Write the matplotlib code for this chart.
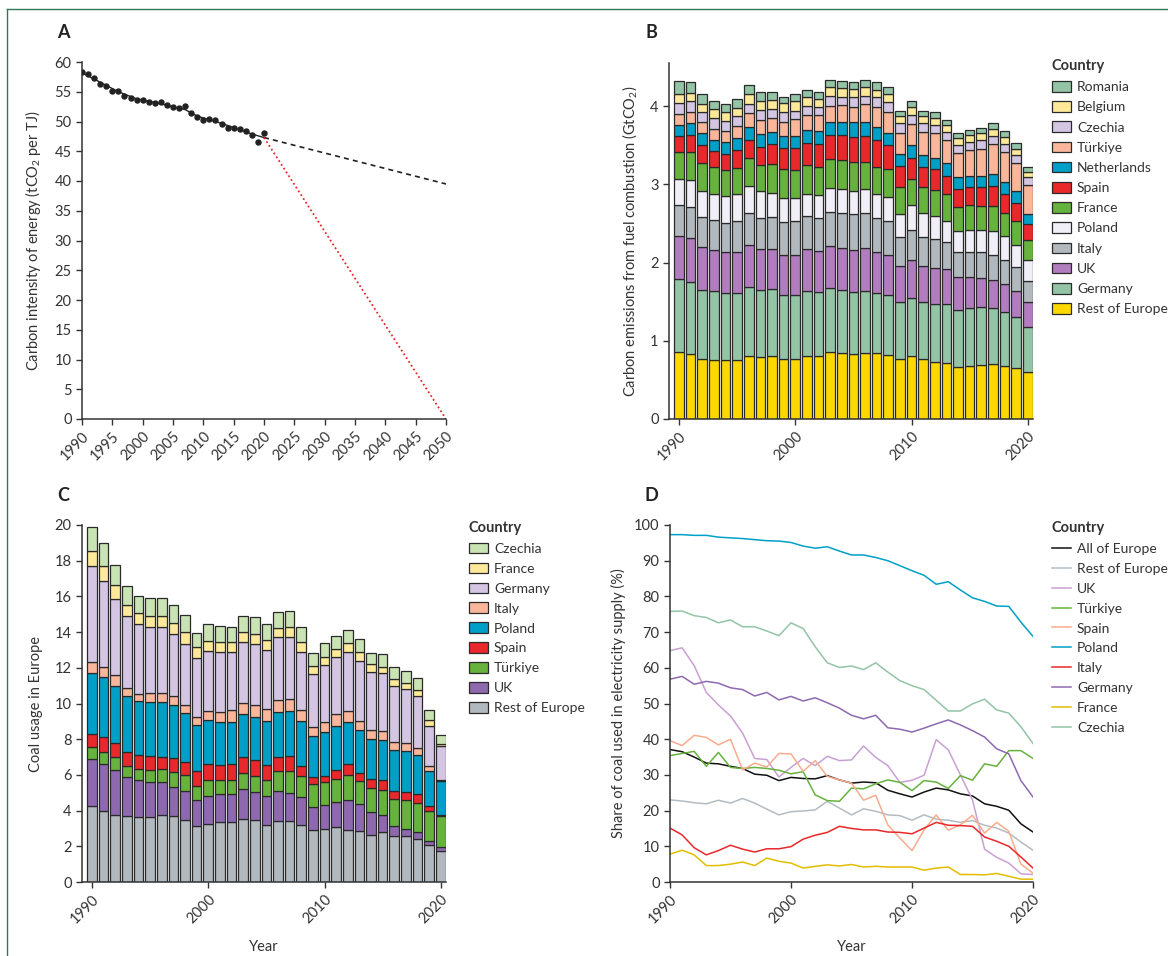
import matplotlib
matplotlib.use("Agg")
import matplotlib.pyplot as plt
from matplotlib.patches import Patch
from matplotlib.lines import Line2D

plt.rcParams['font.family'] = ['Lato', 'DejaVu Sans']
plt.rcParams['mathtext.fontset'] = 'custom'
plt.rcParams['mathtext.rm'] = 'Lato'
plt.rcParams['mathtext.default'] = 'regular'
plt.rcParams['font.size'] = 10
plt.rcParams['text.color'] = '#333333'
plt.rcParams['axes.labelcolor'] = '#333333'
plt.rcParams['xtick.color'] = '#333333'
plt.rcParams['ytick.color'] = '#333333'

years = list(range(1990, 2021))

# ---- panel A: carbon intensity
a_years = years
a_intensity = [58.3, 57.9, 57.3, 56.3, 56.0, 55.2, 55.1, 54.3, 54.0, 53.6, 53.6, 53.3, 53.1, 53.3,
               52.8, 52.4, 52.2, 52.6, 51.5, 50.8, 50.2, 50.5, 50.3, 49.5, 48.9, 48.9, 48.7, 48.4,
               47.8, 46.5, 48.1]
a_trend_years = [1990, 1993, 1996, 1999, 2002, 2005, 2007, 2009, 2012, 2015, 2018, 2020]
a_trend = [58.2, 56.6, 55.0, 53.8, 53.2, 52.5, 52.0, 50.9, 50.0, 49.0, 47.9, 47.3]
proj_years = [2020, 2050]
proj_current = [47.3, 39.5]
proj_netzero = [47.3, 0.0]

# ---- panel B: emissions from fuel combustion (GtCO2), bottom to top
b_countries = ["Rest of Europe", "Germany", "UK", "Italy", "Poland", "France", "Spain",
               "Netherlands", "Türkiye", "Czechia", "Belgium", "Romania"]
b_rest = [0.85, 0.83, 0.77, 0.76, 0.75, 0.76, 0.80, 0.79, 0.80, 0.77, 0.77, 0.80, 0.81, 0.85, 0.84, 0.83,
          0.84, 0.84, 0.82, 0.77, 0.80, 0.77, 0.73, 0.71, 0.67, 0.68, 0.69, 0.70, 0.68, 0.65, 0.60]
b_germany = [0.94, 0.92, 0.88, 0.87, 0.86, 0.85, 0.89, 0.86, 0.86, 0.82, 0.82, 0.83, 0.81, 0.83, 0.81, 0.79,
             0.80, 0.77, 0.77, 0.72, 0.75, 0.73, 0.74, 0.76, 0.72, 0.74, 0.74, 0.72, 0.69, 0.65, 0.58]
b_uk = [0.55, 0.56, 0.55, 0.53, 0.53, 0.52, 0.54, 0.52, 0.51, 0.51, 0.51, 0.54, 0.53, 0.53, 0.53, 0.54,
        0.54, 0.52, 0.51, 0.46, 0.48, 0.45, 0.46, 0.45, 0.42, 0.39, 0.37, 0.36, 0.35, 0.34, 0.31]
b_italy = [0.39, 0.40, 0.38, 0.38, 0.37, 0.40, 0.40, 0.40, 0.41, 0.42, 0.43, 0.42, 0.42, 0.44, 0.45, 0.46,
           0.45, 0.44, 0.43, 0.38, 0.39, 0.37, 0.37, 0.34, 0.33, 0.33, 0.33, 0.32, 0.31, 0.30, 0.28]
b_poland = [0.34, 0.34, 0.34, 0.34, 0.34, 0.34, 0.35, 0.34, 0.31, 0.31, 0.30, 0.29, 0.29, 0.30, 0.31, 0.29,
            0.31, 0.30, 0.31, 0.29, 0.31, 0.31, 0.30, 0.27, 0.26, 0.28, 0.28, 0.30, 0.31, 0.29, 0.26]
b_france = [0.34, 0.36, 0.35, 0.34, 0.33, 0.34, 0.36, 0.34, 0.37, 0.36, 0.35, 0.37, 0.36, 0.37, 0.37, 0.37,
            0.35, 0.35, 0.35, 0.34, 0.34, 0.33, 0.33, 0.34, 0.31, 0.31, 0.31, 0.32, 0.29, 0.30, 0.26]
b_spain = [0.21, 0.22, 0.23, 0.21, 0.21, 0.23, 0.22, 0.23, 0.25, 0.28, 0.29, 0.28, 0.29, 0.31, 0.32, 0.33,
           0.33, 0.35, 0.31, 0.27, 0.26, 0.26, 0.26, 0.24, 0.23, 0.24, 0.24, 0.26, 0.25, 0.23, 0.20]
b_netherlands = [0.14, 0.15, 0.15, 0.14, 0.15, 0.15, 0.17, 0.16, 0.16, 0.15, 0.15, 0.16, 0.17, 0.17, 0.17, 0.18,
                 0.17, 0.16, 0.16, 0.16, 0.17, 0.16, 0.15, 0.16, 0.15, 0.14, 0.15, 0.15, 0.15, 0.15, 0.13]
b_turkiye = [0.14, 0.14, 0.14, 0.14, 0.14, 0.16, 0.18, 0.18, 0.18, 0.17, 0.21, 0.19, 0.20, 0.20, 0.21, 0.20,
             0.23, 0.26, 0.27, 0.27, 0.27, 0.29, 0.31, 0.29, 0.31, 0.33, 0.34, 0.38, 0.38, 0.36, 0.37]
b_czechia = [0.14, 0.14, 0.13, 0.14, 0.13, 0.12, 0.12, 0.13, 0.11, 0.14, 0.11, 0.12, 0.11, 0.13, 0.11, 0.12,
             0.11, 0.12, 0.12, 0.12, 0.12, 0.11, 0.11, 0.11, 0.10, 0.10, 0.11, 0.11, 0.10, 0.10, 0.10]
b_belgium = [0.11, 0.11, 0.11, 0.11, 0.11, 0.11, 0.12, 0.12, 0.12, 0.11, 0.12, 0.11, 0.10, 0.11, 0.11, 0.11,
             0.11, 0.10, 0.10, 0.09, 0.10, 0.09, 0.09, 0.09, 0.09, 0.09, 0.09, 0.09, 0.09, 0.08, 0.07]
b_romania = [0.17, 0.14, 0.13, 0.11, 0.11, 0.11, 0.12, 0.11, 0.10, 0.07, 0.09, 0.09, 0.09, 0.09, 0.09, 0.09,
             0.09, 0.10, 0.09, 0.07, 0.07, 0.07, 0.07, 0.06, 0.07, 0.07, 0.07, 0.07, 0.08, 0.08, 0.06]
b_values = [b_rest, b_germany, b_uk, b_italy, b_poland, b_france, b_spain,
            b_netherlands, b_turkiye, b_czechia, b_belgium, b_romania]
b_colors = ["#fdd800", "#93c4a6", "#b27dbf", "#b1b9bf", "#f0eef6", "#66b23c", "#e8282a",
            "#009fc7", "#f9b69b", "#d4c5e3", "#fde999", "#93c4a6"]

# ---- panel C: coal usage, bottom to top
c_countries = ["Rest of Europe", "UK", "Türkiye", "Spain", "Poland", "Italy", "Germany",
               "France", "Czechia"]
c_rest = [4.24, 3.96, 3.77, 3.71, 3.64, 3.64, 3.77, 3.68, 3.49, 3.12, 3.26, 3.34, 3.34, 3.54, 3.45, 3.21,
          3.40, 3.40, 3.21, 2.93, 2.97, 3.08, 2.93, 2.84, 2.65, 2.78, 2.59, 2.56, 2.43, 2.05, 1.72]
c_uk = [2.65, 2.65, 2.48, 2.16, 2.09, 1.98, 1.81, 1.62, 1.62, 1.46, 1.57, 1.60, 1.59, 1.68, 1.57, 1.59,
        1.72, 1.59, 1.53, 1.25, 1.34, 1.38, 1.64, 1.55, 1.27, 0.99, 0.52, 0.41, 0.35, 0.22, 0.22]
c_turkiye = [0.65, 0.65, 0.73, 0.65, 0.62, 0.67, 0.76, 0.88, 0.86, 0.82, 0.90, 0.78, 0.76, 0.88, 0.90, 0.90,
             1.08, 1.21, 1.18, 1.31, 1.27, 1.32, 1.44, 1.25, 1.34, 1.40, 1.53, 1.60, 1.64, 1.72, 1.74]
c_spain = [0.76, 0.86, 0.80, 0.78, 0.78, 0.75, 0.69, 0.76, 0.73, 0.80, 0.90, 0.84, 0.93, 0.88, 0.90, 0.88,
           0.80, 0.84, 0.60, 0.39, 0.34, 0.50, 0.62, 0.47, 0.50, 0.56, 0.47, 0.50, 0.52, 0.24, 0.09]
c_poland = [3.40, 3.34, 3.21, 3.12, 2.99, 3.04, 3.08, 2.99, 2.76, 2.61, 2.46, 2.43, 2.37, 2.44, 2.43, 2.43,
            2.52, 2.56, 2.48, 2.28, 2.48, 2.46, 2.33, 2.39, 2.26, 2.20, 2.26, 2.29, 2.18, 2.00, 1.87]
c_italy = [0.62, 0.58, 0.58, 0.47, 0.43, 0.50, 0.47, 0.47, 0.47, 0.43, 0.50, 0.52, 0.62, 0.60, 0.65, 0.69,
           0.69, 0.65, 0.65, 0.50, 0.56, 0.65, 0.63, 0.54, 0.50, 0.54, 0.47, 0.41, 0.41, 0.28, 0.09]
c_germany = [5.39, 4.81, 4.31, 4.01, 3.90, 3.73, 3.68, 3.51, 3.41, 3.30, 3.36, 3.40, 3.26, 3.40, 3.45, 3.32,
             3.49, 3.47, 3.23, 2.99, 3.17, 3.19, 3.28, 3.32, 3.26, 3.23, 3.15, 3.04, 2.89, 2.24, 1.87]
c_france = [0.84, 0.86, 0.78, 0.62, 0.62, 0.60, 0.62, 0.60, 0.69, 0.60, 0.56, 0.52, 0.56, 0.56, 0.56, 0.56,
            0.52, 0.56, 0.54, 0.43, 0.47, 0.45, 0.50, 0.52, 0.41, 0.37, 0.39, 0.35, 0.34, 0.34, 0.15]
c_czechia = [1.32, 1.27, 1.10, 1.08, 0.97, 1.01, 1.03, 0.99, 0.91, 0.80, 0.95, 0.91, 0.88, 0.90, 0.91, 0.86,
             0.88, 0.88, 0.86, 0.75, 0.80, 0.76, 0.75, 0.76, 0.65, 0.71, 0.69, 0.65, 0.65, 0.56, 0.50]
c_values = [c_rest, c_uk, c_turkiye, c_spain, c_poland, c_italy, c_germany, c_france, c_czechia]
c_colors = ["#b1b9bf", "#8e69b0", "#66b23c", "#e8282a", "#009fc7", "#f9b69b", "#d4c5e3",
            "#fde999", "#c9e3b4"]

# ---- panel D: share of coal used in electricity supply (%)
d_countries = ["All of Europe", "Rest of Europe", "UK", "Türkiye", "Spain", "Poland", "Italy",
               "Germany", "France", "Czechia"]
d_all = [37.1, 36.5, 35.0, 33.3, 33.1, 32.4, 31.8, 30.2, 29.9, 28.4, 29.3, 29.0, 28.9, 29.8, 28.6, 27.7,
         28.0, 27.8, 25.7, 24.7, 23.8, 25.2, 26.3, 25.8, 24.7, 24.1, 21.9, 21.2, 20.1, 16.3, 14.0]
d_rest = [23.0, 22.7, 22.2, 21.9, 22.9, 22.1, 23.4, 22.1, 20.4, 18.8, 19.7, 19.9, 20.2, 22.6, 20.7, 18.8,
          20.5, 19.8, 18.8, 18.6, 17.3, 18.8, 17.6, 17.3, 16.7, 17.2, 15.9, 15.1, 13.7, 11.2, 8.9]
d_uk = [64.8, 65.6, 60.6, 53.1, 49.6, 46.5, 41.7, 34.6, 34.3, 29.4, 32.1, 34.6, 32.6, 35.2, 34.0, 34.2,
        38.1, 34.9, 32.6, 27.9, 28.5, 29.9, 39.9, 37.0, 30.0, 23.0, 9.2, 6.9, 5.3, 2.3, 2.1]
d_turkiye = [35.4, 36.0, 36.6, 32.4, 36.3, 32.1, 31.8, 32.1, 31.8, 31.3, 30.3, 30.9, 24.4, 22.8, 22.6, 26.3,
             26.1, 27.5, 28.6, 27.9, 25.6, 28.4, 28.0, 26.2, 29.8, 28.5, 33.1, 32.4, 36.8, 36.8, 34.6]
d_spain = [39.6, 38.2, 41.1, 40.5, 38.4, 40.0, 31.4, 33.3, 32.2, 36.0, 35.9, 31.0, 34.0, 29.6, 28.6, 27.7,
           22.9, 24.3, 16.0, 12.3, 8.8, 14.6, 18.8, 14.5, 16.0, 18.7, 13.7, 16.7, 14.2, 5.0, 2.5]
d_poland = [97.3, 97.3, 97.1, 97.1, 96.6, 96.4, 96.2, 95.9, 95.6, 95.5, 95.1, 94.1, 93.5, 93.9, 92.7, 91.6,
            91.6, 90.9, 90.0, 88.6, 87.2, 85.9, 83.4, 84.1, 81.8, 79.6, 78.6, 77.3, 77.2, 72.8, 68.8]
d_italy = [15.1, 13.2, 9.6, 7.6, 8.8, 10.3, 9.2, 8.4, 9.3, 9.3, 9.9, 12.0, 13.1, 13.9, 15.6, 15.0,
           14.6, 14.6, 14.0, 13.9, 13.5, 15.1, 16.7, 15.9, 15.8, 15.6, 12.6, 11.4, 10.0, 7.0, 3.9]
d_germany = [56.8, 57.6, 55.4, 56.2, 55.7, 54.4, 53.9, 52.1, 53.1, 51.0, 52.0, 50.7, 51.6, 50.2, 48.7, 46.7,
             45.7, 46.7, 43.2, 42.8, 42.0, 43.1, 44.3, 45.4, 44.0, 42.4, 40.6, 37.3, 35.9, 28.4, 23.8]
d_france = [7.8, 8.9, 7.6, 4.6, 4.6, 5.0, 5.6, 4.6, 6.7, 5.8, 5.3, 3.9, 4.4, 4.8, 4.5, 4.9,
            4.2, 4.4, 4.2, 4.2, 4.2, 3.3, 3.9, 4.2, 2.1, 2.1, 2.0, 2.4, 1.6, 0.8, 0.8]
d_czechia = [75.8, 75.9, 74.6, 74.1, 72.6, 73.4, 71.5, 71.5, 70.3, 69.0, 72.6, 71.0, 65.9, 61.4, 60.1, 60.5,
             59.5, 61.4, 58.8, 56.4, 55.0, 53.9, 50.9, 47.9, 47.9, 49.9, 51.2, 48.2, 47.3, 43.5, 38.8]
d_values = [d_all, d_rest, d_uk, d_turkiye, d_spain, d_poland, d_italy, d_germany, d_france, d_czechia]
d_colors = ["#111111", "#b4bcc2", "#c9a0d3", "#66b23c", "#f9ac8e", "#00a0c8", "#e8282a",
            "#8e69b0", "#e2bd00", "#93c4a6"]

W, H = 1168, 956
fig = plt.figure(figsize=(W / 100, H / 100), dpi=100)


def px_axes(left, top, right, bottom):
    return fig.add_axes([left / W, 1 - bottom / H, (right - left) / W, (bottom - top) / H])


def style(ax):
    for s in ["top", "right"]:
        ax.spines[s].set_visible(False)
    for s in ["left", "bottom"]:
        ax.spines[s].set_color("#333333")
        ax.spines[s].set_linewidth(1.1)
    ax.tick_params(direction="out", length=4, width=1.0, labelsize=10.5, colors="#333333")
    for lab in ax.get_xticklabels():
        lab.set_rotation(45)
        lab.set_ha("right")
        lab.set_va("top")
        lab.set_rotation_mode("anchor")


def add_legend(ax, handles, x, y, spacing):
    ax.legend(handles=handles, loc="upper left", bbox_to_anchor=(x / W, 1 - y / H),
              bbox_transform=fig.transFigure, frameon=False, title="Country", alignment="left",
              title_fontproperties={"weight": "bold", "size": 10.5}, fontsize=10,
              handlelength=1.35, handleheight=0.8, handletextpad=0.45, labelspacing=spacing,
              borderpad=0)


# panel A
axA = px_axes(82, 62, 446, 419)
axA.plot(a_years, a_intensity, "o", color="#222222", markersize=3.6, zorder=3)
axA.plot(a_trend_years, a_trend, "-", color="#222222", lw=1.0)
axA.plot(proj_years, proj_current, color="#222222", lw=1.2, dashes=(3, 2.5))
axA.plot(proj_years, proj_netzero, color="#e8282a", lw=1.3, dashes=(1, 1.5))
axA.set_xlim(1990, 2050)
axA.set_ylim(0, 60)
axA.set_xticks(range(1990, 2051, 5))
axA.set_yticks(range(0, 61, 5))
axA.set_ylabel("Carbon intensity of energy (tCO$_2$ per TJ)", fontsize=10.5, labelpad=8)
style(axA)

# panel B
axB = px_axes(669, 63, 1033, 419)
bottom = [0.0] * len(years)
b_handles = []
for vals, col, name in zip(b_values, b_colors, b_countries):
    axB.bar(years, vals, bottom=bottom, width=0.82, color=col, edgecolor="#2a2a2a", linewidth=0.9)
    bottom = [b + v for b, v in zip(bottom, vals)]
    b_handles.append(Patch(facecolor=col, edgecolor="#2a2a2a", linewidth=0.9, label=name))
axB.set_xlim(1989.14, 2020.45)
axB.set_ylim(0, 4.55)
axB.set_xticks([1990, 2000, 2010, 2020])
axB.set_yticks([0, 1, 2, 3, 4])
axB.set_ylabel("Carbon emissions from fuel combustion (GtCO$_2$)", fontsize=10.5, labelpad=8)
style(axB)
add_legend(axB, b_handles[::-1], 1045, 52, 0.58)

# panel C
axC = px_axes(82, 525, 446, 882)
bottom = [0.0] * len(years)
c_handles = []
for vals, col, name in zip(c_values, c_colors, c_countries):
    axC.bar(years, vals, bottom=bottom, width=0.82, color=col, edgecolor="#2a2a2a", linewidth=0.9)
    bottom = [b + v for b, v in zip(bottom, vals)]
    c_handles.append(Patch(facecolor=col, edgecolor="#2a2a2a", linewidth=0.9, label=name))
axC.set_xlim(1989.14, 2020.45)
axC.set_ylim(0, 20)
axC.set_xticks([1990, 2000, 2010, 2020])
axC.set_yticks(range(0, 21, 2))
axC.set_ylabel("Coal usage in Europe", fontsize=10.5, labelpad=8)
axC.set_xlabel("Year", fontsize=10.5, labelpad=10)
style(axC)
add_legend(axC, c_handles[::-1], 462, 514, 0.56)

# panel D
axD = px_axes(670, 525, 1033, 882)
d_handles = []
for vals, col, name in zip(d_values, d_colors, d_countries):
    axD.plot(years, vals, color=col, lw=1.1)
    d_handles.append(Line2D([0], [0], color=col, lw=1.1, label=name))
axD.set_xlim(1990, 2020)
axD.set_ylim(0, 100)
axD.set_xticks([1990, 2000, 2010, 2020])
axD.set_yticks(range(0, 101, 10))
axD.set_ylabel("Share of coal used in electricity supply (%)", fontsize=10.5, labelpad=6)
axD.set_xlabel("Year", fontsize=10.5, labelpad=10)
style(axD)
add_legend(axD, d_handles, 1045, 514, 0.56)

# panel letters
for lab, x, y in [("A", 63, 33), ("B", 651, 33), ("C", 63, 495), ("D", 651, 495)]:
    fig.text(x / W, 1 - y / H, lab, fontsize=13, fontweight="bold", color="#222222",
             ha="center", va="center")

# thin frame at top and left
fig.add_artist(Line2D([7 / W, 1], [1 - 9 / H, 1 - 9 / H], color="#2f7a56", lw=1.0))
fig.add_artist(Line2D([7 / W, 7 / W], [0, 1 - 9 / H], color="#2f7a56", lw=1.0))

fig.savefig("out.png", dpi=100)
